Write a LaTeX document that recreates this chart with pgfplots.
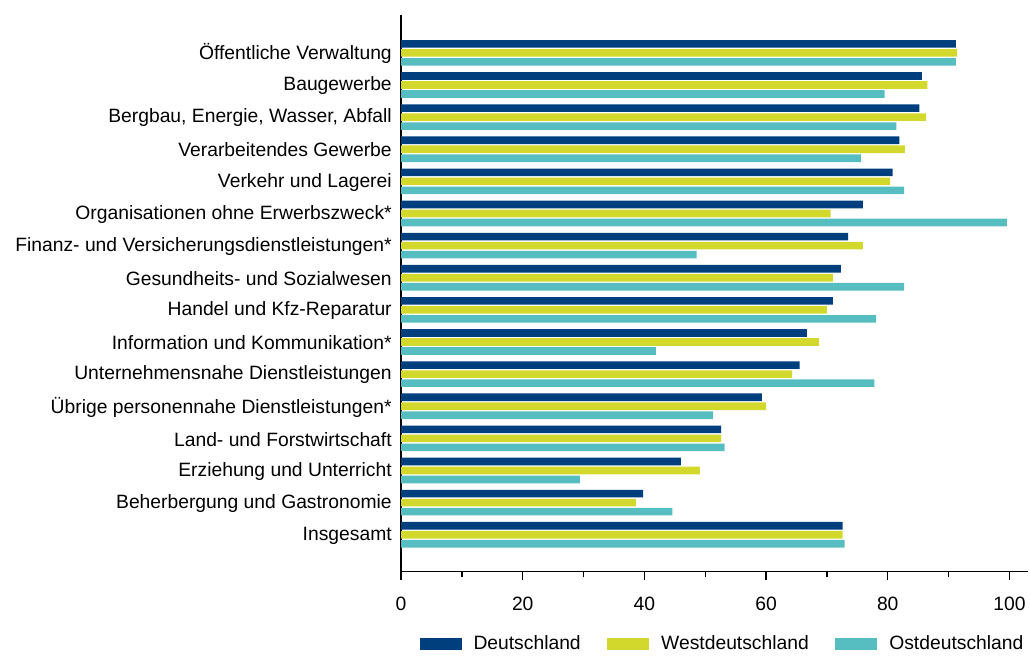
\documentclass[border=0pt]{standalone}
\usepackage{pgfplots}
\pgfplotsset{compat=1.18}
\usepackage{fontspec}
\setmainfont{Liberation Sans}
\definecolor{cD}{RGB}{0,63,125}
\definecolor{cW}{RGB}{210,216,44}
\definecolor{cO}{RGB}{86,190,192}
\begin{document}
\begin{tikzpicture}
\path (0,0) rectangle (772.5pt,-489.75pt);
\begin{axis}[
  at={(301.5pt,-429.75pt)}, anchor=south west,
  scale only axis, width=471pt, height=418.5pt,
  xmin=0, xmax=103, ymin=-1.15, ymax=16.18,
  axis x line*=bottom, axis y line*=left,
  axis line style={black, line width=1pt, -},
  xtick={0,20,...,100}, minor xtick={10,30,...,90},
  tick align=outside, major tick length=6pt, minor tick length=4pt,
  every tick/.style={black, line width=0.9pt},
  ytick={0,...,15}, ytick style={draw=none},
  yticklabels={Insgesamt,Beherbergung und Gastronomie,Erziehung und Unterricht,Land- und Forstwirtschaft,Übrige personennahe Dienstleistungen*,Unternehmensnahe Dienstleistungen,Information und Kommunikation*,Handel und Kfz-Reparatur,Gesundheits- und Sozialwesen,Finanz- und Versicherungsdienstleistungen*,Organisationen ohne Erwerbszweck*,Verkehr und Lagerei,Verarbeitendes Gewerbe,{Bergbau, Energie, Wasser, Abfall},Baugewerbe,Öffentliche Verwaltung},
  tick label style={font=\fontsize{14.5}{17}\selectfont},
  yticklabel style={xshift=2.5pt, yshift=-0.6pt},
  xticklabel style={yshift=-9.5pt},
  /pgf/number format/assume math mode=true,
  xbar, bar width=0.235,
  legend columns=3,
  legend style={at={(0.5135,0)}, anchor=center, yshift=-54pt, draw=none,
    font=\fontsize{14.5}{17}\selectfont,
    /tikz/every odd column/.append style={column sep=7pt},
    /tikz/every even column/.append style={column sep=18pt}},
  legend image code/.code={\fill[#1] (0pt,-4.5pt) rectangle (31.5pt,4.5pt);},
]
\addplot[fill=cD, draw=none, bar shift=0.28] coordinates {
(72.6,0) (39.8,1) (46.0,2) (52.6,3) (59.3,4) (65.5,5) (66.7,6) (71.0,7) (72.3,8) (73.5,9) (75.9,10) (80.8,11) (81.9,12) (85.2,13) (85.6,14) (91.2,15)};
\addplot[fill=cW, draw=none, bar shift=0] coordinates {
(72.6,0) (38.6,1) (49.1,2) (52.6,3) (60.0,4) (64.3,5) (68.7,6) (70.0,7) (71.0,8) (75.9,9) (70.6,10) (80.4,11) (82.8,12) (86.3,13) (86.5,14) (91.4,15)};
\addplot[fill=cO, draw=none, bar shift=-0.28] coordinates {
(72.9,0) (44.6,1) (29.4,2) (53.2,3) (51.3,4) (77.8,5) (41.9,6) (78.1,7) (82.7,8) (48.6,9) (99.6,10) (82.7,11) (75.6,12) (81.4,13) (79.5,14) (91.2,15)};
\legend{Deutschland,Westdeutschland,Ostdeutschland}
\end{axis}
\end{tikzpicture}
\end{document}
